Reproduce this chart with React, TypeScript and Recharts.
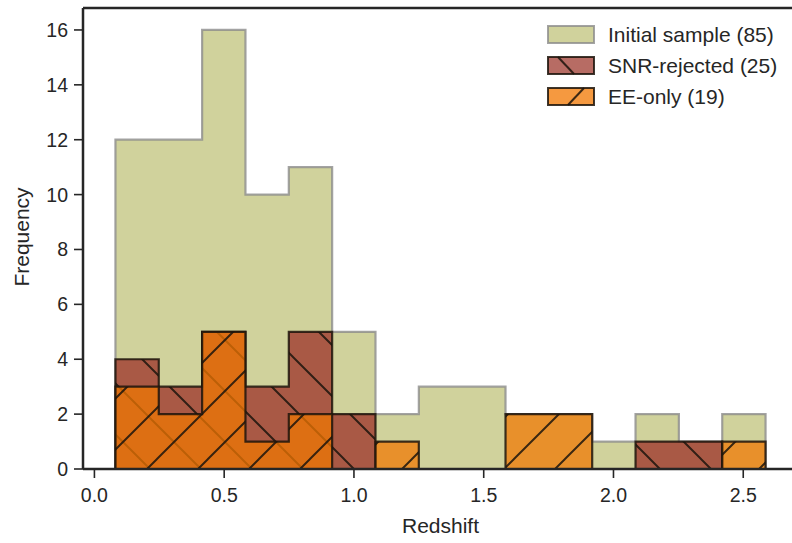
import React from "react";
import {
  Area,
  ComposedChart,
  Label,
  Legend,
  ReferenceLine,
  XAxis,
  YAxis,
} from "recharts";

// Shared bin edges (redshift) for all three histograms
const binEdges = [
  0.081, 0.248, 0.415, 0.582, 0.749, 0.916, 1.083, 1.25, 1.417, 1.584, 1.751,
  1.918, 2.085, 2.252, 2.419, 2.586,
];

// Counts per bin
const initialCounts = [12, 12, 16, 10, 11, 5, 2, 3, 3, 2, 2, 1, 2, 1, 2];
const snrCounts = [4, 3, 5, 3, 5, 2, 0, 0, 0, 0, 0, 0, 1, 1, 0];
const eeCounts = [3, 2, 5, 1, 2, 0, 1, 0, 0, 2, 2, 0, 0, 0, 1];

const xTicks = [0, 0.5, 1, 1.5, 2, 2.5];
const yTicks = [0, 2, 4, 6, 8, 10, 12, 14, 16];

const legendLabels = ["Initial sample (85)", "SNR-rejected (25)", "EE-only (19)"];

const FONT = '"Liberation Sans", Arial, Helvetica, sans-serif';
const INK = "#262626";

const GREEN = "#d0d29c";
const RED = "#9f3b30";
const ORANGE = "#f27700";
const EDGE = "#1c140c";

// step outline: start and end at zero so the side walls get stroked
const histData = (() => {
  const rows: { x: number; initial: number; snr: number; ee: number }[] = [];
  rows.push({ x: binEdges[0], initial: 0, snr: 0, ee: 0 });
  for (let i = 0; i < initialCounts.length; i++) {
    rows.push({
      x: binEdges[i],
      initial: initialCounts[i],
      snr: snrCounts[i],
      ee: eeCounts[i],
    });
  }
  const last = initialCounts.length - 1;
  const end = binEdges[binEdges.length - 1];
  rows.push({ x: end, initial: initialCounts[last], snr: snrCounts[last], ee: eeCounts[last] });
  rows.push({ x: end, initial: 0, snr: 0, ee: 0 });
  return rows;
})();

function Swatch({ kind }: { kind: number }) {
  if (kind === 0) {
    return (
      <svg width={48} height={19}>
        <rect x={1} y={1} width={46} height={17} fill={GREEN} stroke="#8c8c8c" strokeOpacity={0.8} strokeWidth={2} />
      </svg>
    );
  }
  const fill = kind === 1 ? RED : ORANGE;
  return (
    <svg width={48} height={19}>
      <rect x={1} y={1} width={46} height={17} fill={fill} fillOpacity={0.75} />
      {kind === 1 ? (
        <line x1={11} y1={1} x2={27} y2={18} stroke={EDGE} strokeWidth={2} strokeOpacity={0.85} />
      ) : (
        <line x1={21} y1={18} x2={37} y2={1} stroke={EDGE} strokeWidth={2} strokeOpacity={0.85} />
      )}
      <rect x={1} y={1} width={46} height={17} fill="none" stroke={EDGE} strokeOpacity={0.85} strokeWidth={2} />
    </svg>
  );
}

function HistLegend() {
  return (
    <div style={{ fontFamily: FONT, fontSize: 21, color: INK }}>
      {legendLabels.map((label, i) => (
        <div key={label} style={{ display: "flex", alignItems: "center", height: 31 }}>
          <Swatch kind={i} />
          <span style={{ marginLeft: 13, whiteSpace: "nowrap" }}>{label}</span>
        </div>
      ))}
    </div>
  );
}

export default function App() {
  const tickStyle = { fontFamily: FONT, fontSize: 19.5, fill: INK };
  return (
    <div style={{ position: "absolute", left: 0, top: 0, background: "#fff" }}>
      <ComposedChart
        width={810}
        height={543}
        data={histData}
        margin={{ top: 8, right: 12, bottom: 0, left: 23 }}
      >
        <defs>
          {/* "\" hatch for the SNR-rejected bars */}
          <pattern id="hatchBack" patternUnits="userSpaceOnUse" width={51} height={51} x={38} y={0}>
            <rect width={51} height={51} fill={RED} fillOpacity={0.8} />
            <path d="M-5,-5 L56,56 M-5,46 L5,56 M46,-5 L56,5" stroke={EDGE} strokeOpacity={0.85} strokeWidth={2} />
          </pattern>
          {/* "/" hatch for the EE-only bars */}
          <pattern id="hatchFwd" patternUnits="userSpaceOnUse" width={51} height={51} x={4} y={0}>
            <rect width={51} height={51} fill={ORANGE} fillOpacity={0.72} />
            <path d="M-5,56 L56,-5 M-5,5 L5,-5 M46,56 L56,46" stroke={EDGE} strokeOpacity={0.85} strokeWidth={2} />
          </pattern>
        </defs>
        <XAxis
          dataKey="x"
          type="number"
          domain={[-0.044, 2.711]}
          allowDataOverflow
          ticks={xTicks}
          tickFormatter={(v: number) => v.toFixed(1)}
          height={74}
          tick={tickStyle}
          tickSize={9}
          tickMargin={10}
          axisLine={{ stroke: INK, strokeWidth: 2.5 }}
          tickLine={{ stroke: INK, strokeWidth: 1.6 }}
        >
          <Label
            value="Redshift"
            position="insideBottom"
            offset={10}
            style={{ fontFamily: FONT, fontSize: 21, fill: INK }}
          />
        </XAxis>
        <YAxis
          type="number"
          domain={[0, 16.8]}
          allowDataOverflow
          ticks={yTicks}
          width={60}
          tick={tickStyle}
          tickSize={9}
          tickMargin={6}
          axisLine={{ stroke: INK, strokeWidth: 2.5 }}
          tickLine={{ stroke: INK, strokeWidth: 1.6 }}
        >
          <Label
            content={() => (
              <text
                x={21}
                y={237}
                transform="rotate(-90 21 237)"
                textAnchor="middle"
                dominantBaseline="central"
                style={{ fontFamily: FONT, fontSize: 21, fill: INK }}
              >
                Frequency
              </text>
            )}
          />
        </YAxis>
        <ReferenceLine y={16.8} stroke={INK} strokeWidth={2.5} ifOverflow="visible" />
        <Area
          dataKey="initial"
          type="stepAfter"
          fill={GREEN}
          fillOpacity={1}
          stroke="#8c8c8c"
          strokeOpacity={0.8}
          strokeWidth={2.2}
          dot={false}
          activeDot={false}
          isAnimationActive={false}
        />
        <Area
          dataKey="snr"
          type="stepAfter"
          fill="url(#hatchBack)"
          fillOpacity={1}
          stroke={EDGE}
          strokeOpacity={0.85}
          strokeWidth={2.2}
          dot={false}
          activeDot={false}
          isAnimationActive={false}
        />
        <Area
          dataKey="ee"
          type="stepAfter"
          fill="url(#hatchFwd)"
          fillOpacity={1}
          stroke={EDGE}
          strokeOpacity={0.85}
          strokeWidth={2.2}
          dot={false}
          activeDot={false}
          isAnimationActive={false}
        />
        <Legend
          layout="vertical"
          align="center"
          verticalAlign="middle"
          wrapperStyle={{ left: 547, top: 19, width: 260 }}
          content={() => <HistLegend />}
        />
      </ComposedChart>
    </div>
  );
}
